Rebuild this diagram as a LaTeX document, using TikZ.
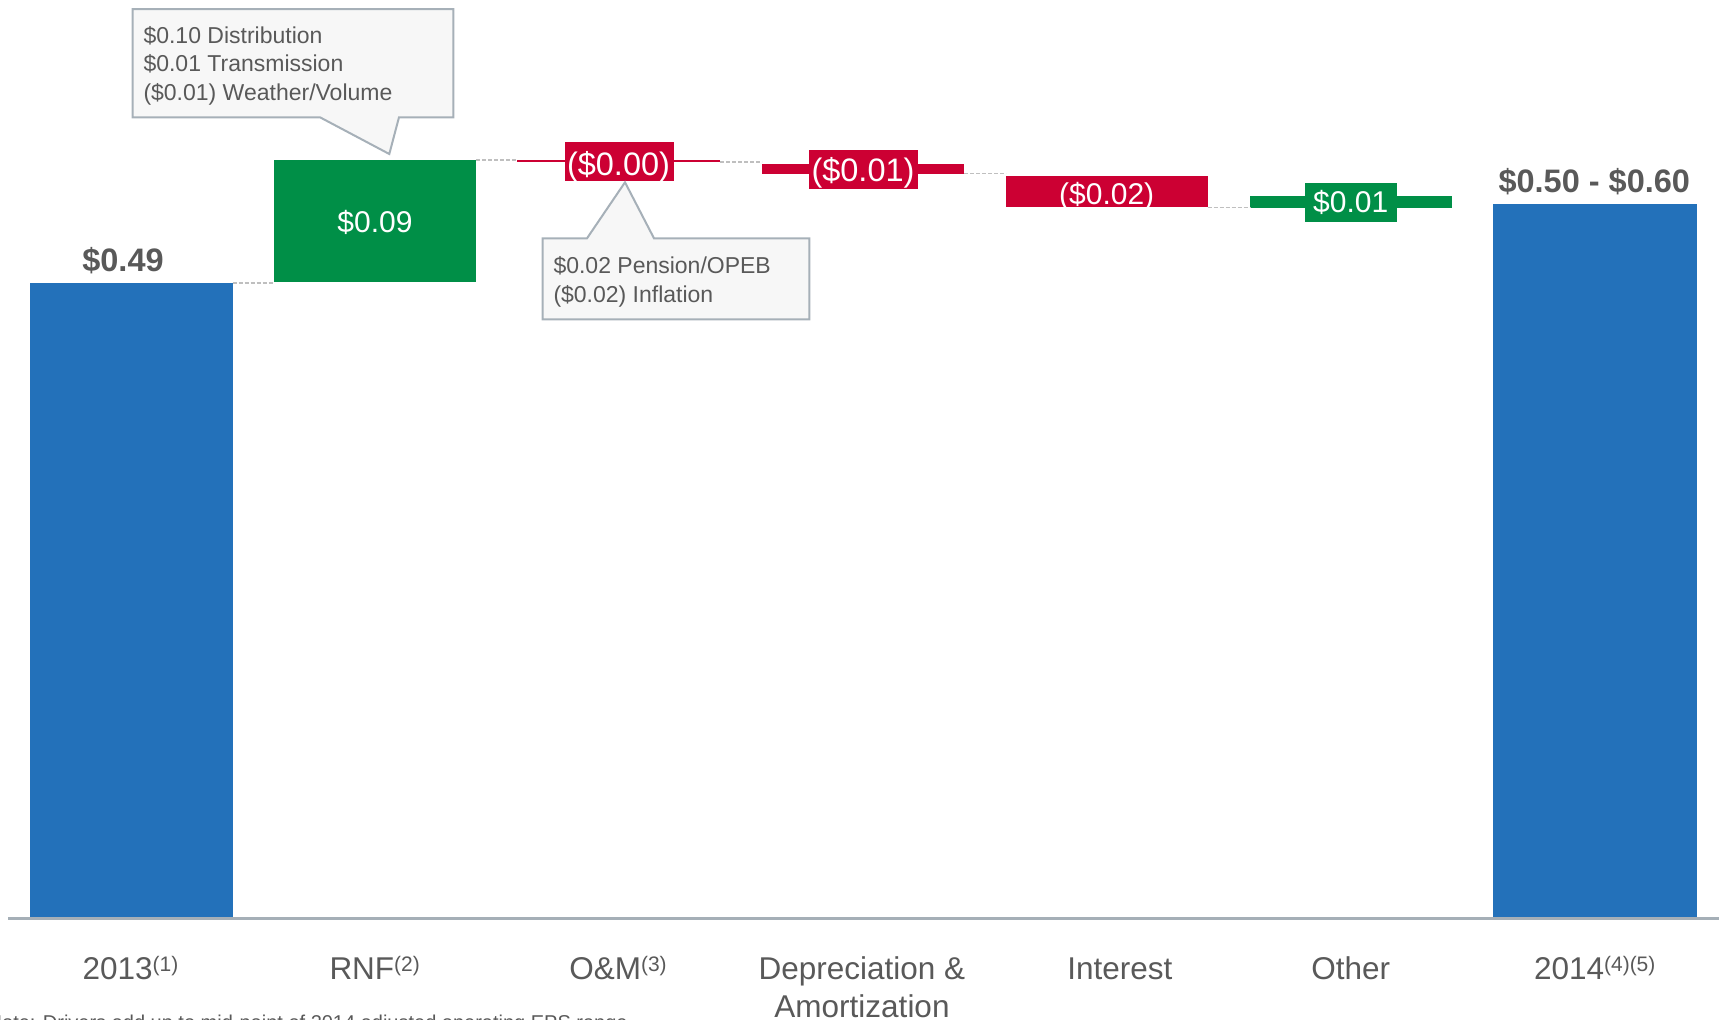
\documentclass[tikz,border=0pt]{standalone}
\usepackage{fontspec}
\setmainfont{Liberation Sans}
\usetikzlibrary{calc}
\definecolor{barblue}{RGB}{35,113,186}
\definecolor{bargreen}{RGB}{0,143,71}
\definecolor{barred}{RGB}{204,0,51}
\definecolor{txtgray}{RGB}{89,89,89}
\definecolor{callfill}{RGB}{247,247,247}
\definecolor{callline}{RGB}{166,176,184}
\definecolor{axisgray}{RGB}{165,175,183}
\definecolor{dashgray}{RGB}{191,191,191}
\newcommand\supmark[1]{\raisebox{8pt}{\fontsize{21}{21}\selectfont #1}}
\begin{document}
\begin{tikzpicture}[x=1pt,y=-1pt,
  bar/.style={draw=none, inner sep=0pt, outer sep=0pt, anchor=north west},
  dashcon/.style={draw=dashgray, line width=1.5pt, dash pattern=on 4pt off 2pt},
  cat/.style={text=txtgray, font=\fontsize{31.5}{36}\selectfont, anchor=base, inner sep=0pt},
  val/.style={text=white, font=\fontsize{30}{36}\selectfont, anchor=base, inner sep=0pt},
  valbig/.style={text=white, font=\fontsize{32.5}{36}\selectfont, anchor=base, inner sep=0pt},
  tot/.style={text=txtgray, font=\bfseries\fontsize{32.5}{36}\selectfont, anchor=base, inner sep=0pt},
  callout/.style={draw=callline, fill=callfill, line width=2pt, line join=miter},
  calltxt/.style={text=txtgray, font=\fontsize{23}{28}\selectfont, anchor=base west, inner sep=0pt},
]
\useasboundingbox (0,0) rectangle (1719,1020);

% bars
\node[bar, fill=barblue, minimum width=203.2pt, minimum height=635pt] (b13) at (29.5,283) {};
\node[bar, fill=bargreen, minimum width=202pt, minimum height=122pt] (rnf) at (274,160) {};
\node[bar, fill=barred, minimum width=203pt, minimum height=2.2pt] (om) at (517,159.7) {};
\node[bar, fill=barred, minimum width=109pt, minimum height=39pt] (omlab) at (564.6,142) {};
\node[bar, fill=barred, minimum width=202pt, minimum height=10pt] (dep) at (762,163.5) {};
\node[bar, fill=barred, minimum width=108.6pt, minimum height=39pt] (deplab) at (809,150) {};
\node[bar, fill=barred, minimum width=201.7pt, minimum height=31.3pt] (int) at (1006,176) {};
\node[bar, fill=bargreen, minimum width=201.7pt, minimum height=11.7pt] (oth) at (1250,196) {};
\node[bar, fill=bargreen, minimum width=91.7pt, minimum height=39pt] (othlab) at (1305,182.7) {};
\node[bar, fill=barblue, minimum width=203.7pt, minimum height=714pt] (b14) at (1493,204) {};

% dashed connectors
\draw[dashcon] (b13.north east) -- (b13.north east -| rnf.west);
\draw[dashcon] (rnf.north east) -- (rnf.north east -| om.west);
\draw[dashcon] (om.south east) -- (om.south east -| dep.west);
\draw[dashcon] (dep.south east) -- (dep.south east -| int.west);
\draw[dashcon] (int.south east) -- (int.south east -| oth.west);

% axis
\coordinate (axL) at (8,918.3);
\coordinate (axR) at (1719,918.3);
\draw[axisgray, line width=2.5pt] (axL) -- (axR);

% values
\node[val] (v09) at (375,232) {\$0.09};
\node[valbig] (v00) at (618.5,175) {(\$0.00)};
\node[valbig] (v01) at (863,181.7) {(\$0.01)};
\node[val] (v02) at (1106.7,204) {(\$0.02)};
\node[val] (v01b) at (1350.7,212.7) {\$0.01};
\node[tot] (t13) at (123,271.7) {\$0.49};
\node[tot] (t14) at (1594.3,192.3) {\$0.50 - \$0.60};

% callout 1
\coordinate (tip1) at (389.3,154);
\draw[callout] (132.7,9) -- (453.3,9) -- (453.3,117.3) -- (399,117.3) -- (tip1) -- (320,117.3) -- (132.7,117.3) -- cycle;
\node[calltxt] (c1a) at (143.3,43.3) {\$0.10 Distribution};
\node[calltxt] (c1b) at (143.3,71.7) {\$0.01 Transmission};
\node[calltxt] (c1c) at (143.3,100.7) {(\$0.01) Weather/Volume};

% callout 2
\coordinate (tip2) at (625,182.3);
\draw[callout] (542.7,238.3) -- (587,238.3) -- (tip2) -- (654,238.3) -- (809.3,238.3) -- (809.3,319.3) -- (542.7,319.3) -- cycle;
\node[calltxt] (c2a) at (553.3,273) {\$0.02 Pension/OPEB};
\node[calltxt] (c2b) at (553.3,302) {(\$0.02) Inflation};

% category labels
\node[cat] (l13) at (130.4,979.3) {2013\supmark{(1)}};
\node[cat] (lrnf) at (374.7,979.3) {RNF\supmark{(2)}};
\node[cat] (lom) at (618,979.3) {O\&M\supmark{(3)}};
\node[cat] (ldep1) at (862,979.3) {Depreciation \&};
\node[cat] (ldep2) at (862,1017.3) {Amortization};
\node[cat] (lint) at (1119.8,979.3) {Interest};
\node[cat] (loth) at (1350.8,979.3) {Other};
\node[cat] (l14) at (1594.7,979.3) {2014\supmark{(4)(5)}};

% footnote (cut off by the frame)
\begin{scope}
\clip (0,0) rectangle (1719,1020);
\node[text=txtgray, font=\fontsize{20}{24}\selectfont, anchor=base west, inner sep=0pt] (note) at (-12.5,1029) {Note: Drivers add up to mid-point of 2014 adjusted operating EPS range};
\end{scope}
\end{tikzpicture}
\end{document}
